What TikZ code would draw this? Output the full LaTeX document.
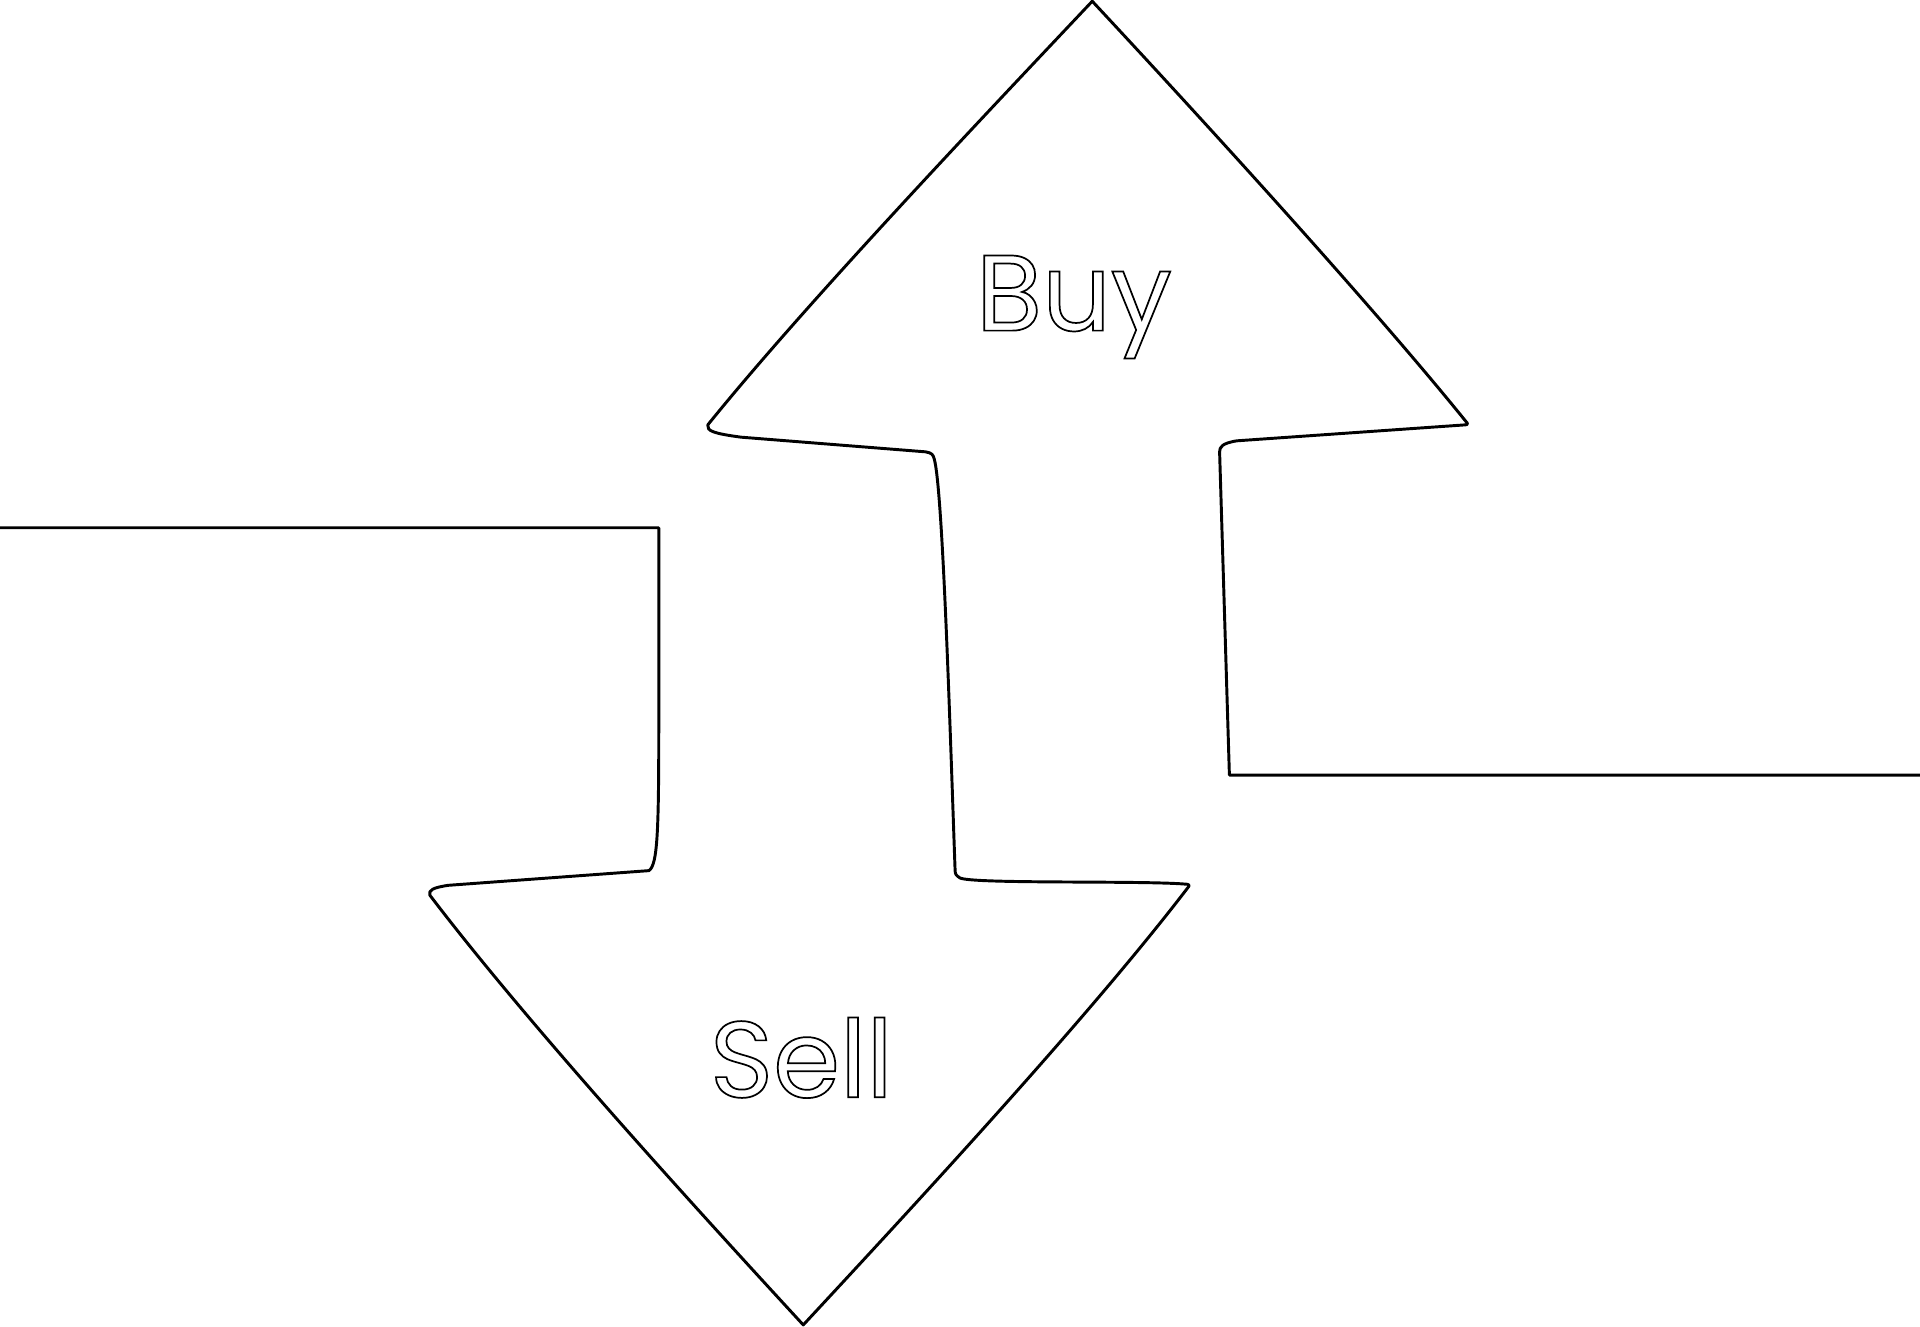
\documentclass[tikz,border=0pt]{standalone}
\usepackage{fontspec}
\setmainfont{Poppins}
\tikzset{
  outline/.style={draw=black, line width=1.2pt, line join=round},
  label/.style={inner sep=0pt, anchor=base, font=\fontsize{44}{50}\selectfont},
}
\newcommand{\hollow}[1]{\special{pdf:literal 1 Tr 0.7 w}#1\special{pdf:literal 0 Tr}}
\begin{document}
\begin{tikzpicture}[x=0.5pt, y=-0.5pt]
\useasboundingbox (0,0) rectangle (1568,1083);
\draw[outline]
  (0,431) -- (538,431) -- (538,590)
  .. controls (538,680) and (537,706) .. (530,711)
  -- (366,723)
  .. controls (353,725) and (350,727) .. (351,731)
  .. controls (431,836.2) and (566.3,984.6) .. (656,1082)
  .. controls (747.3,983.6) and (889.5,830.2) .. (970,725)
  .. controls (972,723) and (971,722) .. (968,722)
  .. controls (930,719) and (795,722) .. (784,717)
  .. controls (781,715) and (780,714) .. (780,711)
  .. controls (776,600) and (770,400) .. (763,375)
  .. controls (762,371) and (761,370) .. (756,369)
  -- (605,357)
  .. controls (583,354) and (577,352) .. (578,347)
  .. controls (658.1,247.8) and (804.3,94) .. (892,1)
  .. controls (978.2,93.5) and (1118.8,247.2) .. (1197,344)
  .. controls (1199,346) and (1199,347) .. (1196,347)
  -- (1010,360)
  .. controls (998,362) and (996,365) .. (996,369)
  -- (1004,633) -- (1568,633);
\node[label] (buy) at (877,270) {\hollow{Buy}};
\node[label] (sell) at (654.5,896) {\hollow{Sell}};
\end{tikzpicture}
\end{document}
